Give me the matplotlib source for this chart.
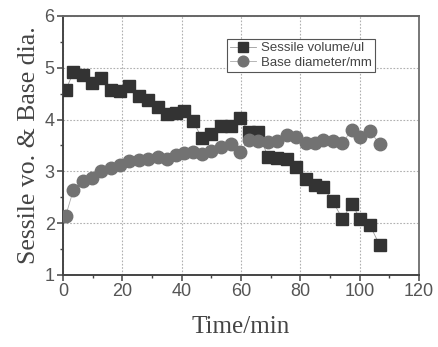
import matplotlib
matplotlib.use("Agg")
import matplotlib.pyplot as plt
from matplotlib.ticker import MultipleLocator

time_min = [0.9, 3.5, 6.6, 9.9, 12.9, 16.1, 19.3, 22.4, 25.7, 28.6, 31.9, 35.0,
            38.2, 40.9, 43.8, 46.9, 50.0, 53.1, 56.5, 59.6, 62.6, 65.8, 69.1,
            72.2, 75.4, 78.7, 81.8, 84.9, 87.8, 91.0, 94.2, 97.3, 100.2, 103.4, 106.7]
sessile_volume = [4.57, 4.91, 4.86, 4.71, 4.80, 4.57, 4.56, 4.65, 4.46, 4.38, 4.24, 4.11,
                  4.12, 4.17, 3.97, 3.64, 3.72, 3.88, 3.88, 4.04, 3.77, 3.77, 3.28,
                  3.26, 3.24, 3.09, 2.85, 2.74, 2.69, 2.42, 2.08, 2.38, 2.08, 1.97, 1.58]
base_diameter = [2.14, 2.64, 2.81, 2.88, 3.01, 3.06, 3.12, 3.20, 3.22, 3.24, 3.27, 3.24,
                 3.32, 3.35, 3.38, 3.33, 3.40, 3.48, 3.52, 3.37, 3.61, 3.59, 3.56,
                 3.59, 3.70, 3.66, 3.55, 3.55, 3.61, 3.59, 3.55, 3.80, 3.67, 3.78, 3.53]

xticks = [0, 20, 40, 60, 80, 100, 120]
yticks = [1, 2, 3, 4, 5, 6]

fig = plt.figure(figsize=(4.38, 3.47), dpi=100)
ax = fig.add_axes([0.1438, 0.2075, 0.8128, 0.7464])

ax.plot(time_min, sessile_volume, marker='s', markersize=8.5, color='#9a9a9a',
        linewidth=0.6, markerfacecolor='#333333', markeredgecolor='#333333',
        label='Sessile volume/ul', zorder=3)
ax.plot(time_min, base_diameter, marker='o', markersize=9, color='#aaaaaa',
        linewidth=0.6, markerfacecolor='#727272', markeredgecolor='#727272',
        label='Base diameter/mm', zorder=3)

ax.set_xlim(0, 120)
ax.set_ylim(1, 6)
ax.set_xticks(xticks)
ax.set_yticks(yticks)
ax.xaxis.set_minor_locator(MultipleLocator(10))
ax.yaxis.set_minor_locator(MultipleLocator(0.5))
ax.grid(True, which='major', linestyle=(0, (1.5, 1.5)), color='#b0b0b0', linewidth=0.8)

for s in ax.spines.values():
    s.set_linewidth(1.4)
    s.set_color('#444444')
ax.spines['top'].set_color('#666666')
ax.spines['right'].set_color('#777777')

ax.tick_params(which='major', direction='out', length=4, width=1.1, color='#444444',
               labelsize=13, labelcolor='#555555', pad=2)
ax.tick_params(which='minor', direction='out', length=2.5, width=1.0, color='#444444')
for lbl in ax.get_xticklabels() + ax.get_yticklabels():
    lbl.set_family('Liberation Sans')

ax.set_xlabel('Time/min', family='Liberation Serif', fontsize=18, color='#444444', labelpad=11)
ax.set_ylabel('Sessile vo. & Base dia.', family='Liberation Serif', fontsize=18.5,
              color='#444444', labelpad=3)

leg = ax.legend(loc='upper left', bbox_to_anchor=(0.46, 0.912), fancybox=False,
                framealpha=1, edgecolor='#555555', prop={'family': 'Liberation Sans', 'size': 9.5},
                borderpad=0.25, labelspacing=0.15, handlelength=2.0, handletextpad=0.35,
                borderaxespad=0, markerscale=0.85)
leg.get_frame().set_linewidth(0.8)
for t in leg.get_texts():
    t.set_color('#444444')

fig.savefig('out.png', dpi=100)
